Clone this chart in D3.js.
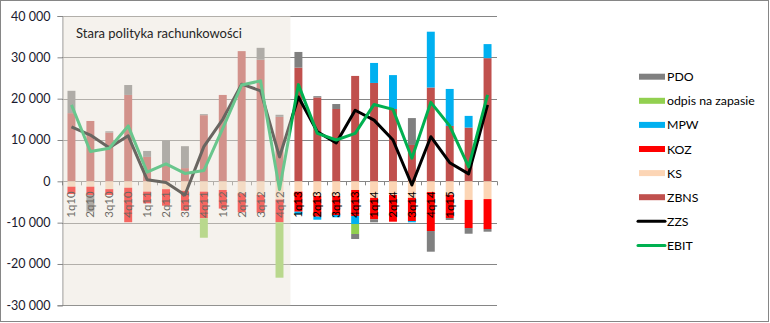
<!DOCTYPE html>
<html><head><meta charset="utf-8">
<script src="https://cdn.jsdelivr.net/npm/d3@7"></script>
<style>
html,body{margin:0;padding:0;background:#fff;}
svg{display:block;font-family:Lato,"Open Sans",sans-serif;}
</style></head>
<body>
<svg id="c" width="770" height="323"></svg>
<script>
const categories = ["1q10","2q10","3q10","4q10","1q11","2q11","3q11","4q11","1q12","2q12","3q12","4q12","1q13","2q13","3q13","4q13","1q14","2q14","3q14","4q14","1q15","2q15","3q15"];
const tickLabels = ["1q10","2q10","3q10","4q10","1q11","2q11","3q11","4q11","1q12","2q12","3q12","4q12","1q13","2q13","3q13","4q13","1q14","2q14","3q14","4q14","1q15","",""];
const oldPolicyCount = 12;
const titleText = "Stara polityka  rachunkowości";

const ZBNS = [16500,14600,11800,20900,5900,4200,3200,16000,20900,31500,29400,15600,27500,20300,17500,25500,23800,17500,8800,22700,13400,13000,29800];
const KS   = [-1300,-1300,-1900,-1550,-2500,-1900,-2300,-2500,-2100,-2900,-3300,-4400,-2500,-3550,-3550,-2100,-4000,-3300,-4000,-2600,-3250,-4500,-4300];
const KOZ  = [-1770,-2010,-1400,-8350,-2830,-4000,-4800,-6450,-4500,-4600,-4300,-5520,-4850,-5010,-4600,-6300,-5200,-6470,-5600,-9430,-5630,-6800,-7240];
const MPW  = [0,0,0,0,0,0,0,0,0,0,0,0,-640,-730,-560,-1930,4840,8200,-320,13500,8950,2830,3400];
const odpis= [0,0,0,0,0,0,0,-4700,0,0,0,-13400,0,0,0,-2420,0,0,0,0,0,0,0];
const PDO  = [5400,-4040,300,2400,1450,5650,5300,250,0,0,2900,500,3800,300,1200,-1210,-720,0,6500,-5000,-480,-1380,-650];
const ZZS  = [13200,11200,8100,11000,400,-300,-3300,8400,15000,23500,21900,5900,20400,12000,9300,17200,14800,10000,-900,10800,4500,1800,18500];
const EBIT = [18500,7200,8000,13400,2200,4200,1900,2600,12800,23300,24300,-2000,23400,11600,10000,11600,18600,17400,5600,19100,13400,3500,20900];
const yTicks = [-30000,-20000,-10000,0,10000,20000,30000,40000];

const barSeries = [
  {key:"ZBNS", values:ZBNS, color:"#C0504D"},
  {key:"KS", values:KS, color:"#FCD5B5"},
  {key:"KOZ", values:KOZ, color:"#FF0000"},
  {key:"MPW", values:MPW, color:"#00B0F0"},
  {key:"odpis na zapasie", values:odpis, color:"#92D050"},
  {key:"PDO", values:PDO, color:"#808080"}
];
const lineSeries = [
  {key:"ZZS", values:ZZS, color:"#000000"},
  {key:"EBIT", values:EBIT, color:"#00B050"}
];

const svg = d3.select("#c");
const W = 770, H = 323;
const plot = {left:62, right:497, top:16, bottom:305.3};

const x = d3.scaleBand().domain(categories).range([plot.left, plot.right]).paddingInner(0.58).paddingOuter(0.29);
const y = d3.scaleLinear().domain([-30000, 40000]).range([plot.bottom, plot.top]);
const cx = c => x(c) + x.bandwidth()/2;

const loc = d3.formatLocale({decimal:",", thousands:"\u00a0", grouping:[3], currency:["",""], minus:"-"});
const fmt = loc.format(",d");

// outer border
svg.append("rect").attr("x",0.5).attr("y",0.5).attr("width",W-2).attr("height",H-2)
  .attr("fill","#fff").attr("stroke","#868686").attr("stroke-width",1);

// gridlines
svg.append("g").selectAll("line").data(yTicks).join("line")
  .attr("x1",plot.left).attr("x2",plot.right)
  .attr("y1",d=>Math.round(y(d))+0.5).attr("y2",d=>Math.round(y(d))+0.5)
  .attr("stroke","#868686").attr("stroke-width",1);

// y axis
const yAxis = d3.axisLeft(y).tickValues(yTicks).tickFormat(fmt).tickSize(5).tickPadding(7);
const gy = svg.append("g").attr("transform",`translate(${plot.left+0.5},0)`).call(yAxis);
gy.select(".domain").attr("stroke","#868686");
gy.selectAll(".tick line").attr("stroke","#868686");
gy.selectAll(".tick text").attr("font-size","12.5px").attr("fill","#1a1a2e").attr("font-family","Lato");

// stacked bars
const table = categories.map((c,i)=>{const o={cat:c}; barSeries.forEach(s=>o[s.key]=s.values[i]); return o;});
const stack = d3.stack().keys(barSeries.map(s=>s.key)).offset(d3.stackOffsetDiverging);
const stacked = stack(table);
const gb = svg.append("g");
stacked.forEach((layer,li)=>{
  gb.append("g").attr("fill",barSeries[li].color).selectAll("rect").data(layer.filter(d=>d[1]!==d[0])).join("rect")
    .attr("x",d=>x(d.data.cat)).attr("width",x.bandwidth())
    .attr("y",d=>y(Math.max(d[0],d[1]))).attr("height",d=>Math.abs(y(d[0])-y(d[1])));
});

// x axis ticks at zero
const zeroY = y(0);
const bounds = d3.range(categories.length+1).map(i=> i<categories.length ? x(categories[i]) - x.step()*x.paddingInner()/2 : x(categories[i-1]) + x.bandwidth() + x.step()*x.paddingInner()/2);
svg.append("g").selectAll("line").data(bounds).join("line")
  .attr("x1",d=>Math.round(d)+0.5).attr("x2",d=>Math.round(d)+0.5)
  .attr("y1",zeroY).attr("y2",zeroY+4).attr("stroke","#868686");

// lines
lineSeries.forEach(s=>{
  const line = d3.line().x((d,i)=>cx(categories[i])).y(d=>y(d));
  svg.append("path").datum(s.values).attr("d",line).attr("fill","none")
    .attr("stroke",s.color).attr("stroke-width",3).attr("stroke-linejoin","round");
});

// category labels
svg.append("g").selectAll("text").data(categories).join("text")
  .attr("transform",c=>`translate(${cx(c)+4},${zeroY+10}) rotate(-90)`)
  .attr("text-anchor","end").attr("font-size","11.5px").attr("fill","#000")
  .text((c,i)=>tickLabels[i]);

// old policy overlay
const oldRight = x(categories[oldPolicyCount]) - 4;
svg.append("rect").attr("x",plot.left+1).attr("y",plot.top).attr("width",oldRight-plot.left-1).attr("height",plot.bottom-plot.top)
  .attr("fill","rgb(232,227,216)").attr("fill-opacity",0.45);

svg.append("text").attr("x",76).attr("y",38).attr("font-size","13px").attr("fill","#262626").text(titleText);

// legend
const legendItems = [...barSeries.slice().reverse().map(s=>({key:s.key,color:s.color,type:"bar"})), ...lineSeries.map(s=>({key:s.key,color:s.color,type:"line"}))];
const lg = svg.append("g");
legendItems.forEach((it,i)=>{
  const ly = 76.7 + i*24.1;
  if(it.type==="bar") lg.append("rect").attr("x",639).attr("y",ly-3).attr("width",26).attr("height",6).attr("fill",it.color);
  else lg.append("line").attr("x1",638).attr("x2",665).attr("y1",ly).attr("y2",ly).attr("stroke",it.color).attr("stroke-width",3).attr("stroke-linecap","round");
  lg.append("text").attr("x",667).attr("y",ly+4.5).attr("font-size","12.3px").attr("fill","#000").text(it.key);
});
</script>
</body></html>
